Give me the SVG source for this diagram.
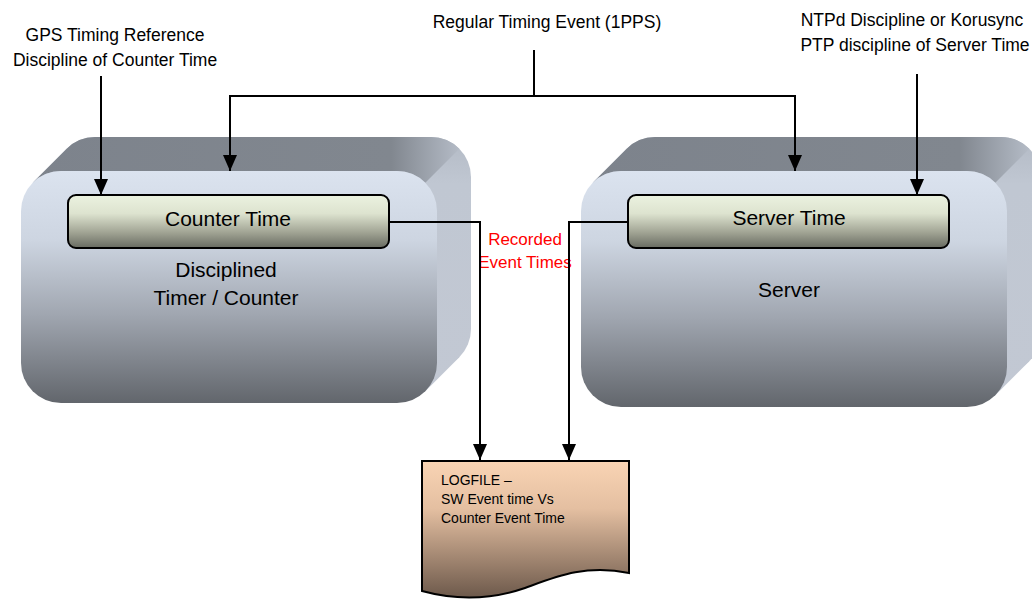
<svg xmlns="http://www.w3.org/2000/svg" width="1032" height="599" viewBox="0 0 1032 599">
<defs>
<linearGradient id="gFront" x1="0" y1="0" x2="0" y2="1">
<stop offset="0" stop-color="#dbe3ef"/>
<stop offset="0.3" stop-color="#cdd5e1"/>
<stop offset="0.62" stop-color="#a0a6b0"/>
<stop offset="1" stop-color="#62666c"/>
</linearGradient>
<linearGradient id="gSide" x1="0" y1="0" x2="0" y2="1">
<stop offset="0" stop-color="#b3bac5"/>
<stop offset="0.2" stop-color="#c0c7d2"/>
<stop offset="1" stop-color="#c2c8d3"/>
</linearGradient>
<linearGradient id="gTop" x1="0" y1="0" x2="1" y2="0">
<stop offset="0" stop-color="#7d838c"/>
<stop offset="0.84" stop-color="#81878f"/>
<stop offset="1" stop-color="#b4bbc6"/>
</linearGradient>
<linearGradient id="gBar" x1="0" y1="0" x2="0" y2="1">
<stop offset="0" stop-color="#ebf2e0"/>
<stop offset="0.35" stop-color="#dde3cf"/>
<stop offset="0.7" stop-color="#a2a595"/>
<stop offset="1" stop-color="#686b61"/>
</linearGradient>
<linearGradient id="gDoc" x1="0" y1="0" x2="0" y2="1">
<stop offset="0" stop-color="#f9d4b4"/>
<stop offset="0.35" stop-color="#e4bfa1"/>
<stop offset="1" stop-color="#6d594b"/>
</linearGradient>
<marker id="arr" markerUnits="userSpaceOnUse" markerWidth="16" markerHeight="16" viewBox="0 0 16 16" refX="16" refY="8" orient="auto">
<path d="M0,1 L16,8 L0,15 Z" fill="#000"/>
</marker>
<style>
text{font-family:"Liberation Sans",Arial,sans-serif;fill:#000}
.lbl{font-size:17.5px;text-anchor:middle}
.big{font-size:21px;text-anchor:middle}
.red{font-size:17px;text-anchor:middle;fill:#ff0000}
.doc{font-size:14px}
.side{fill:url(#gSide)}
.top{fill:url(#gTop)}
.front{fill:url(#gFront)}
.bar{fill:url(#gBar);stroke:#000;stroke-width:2}
.con{fill:none;stroke:#000;stroke-width:2}
</style>
</defs>

<g id="timer-counter">
<rect class="side" x="55" y="137" width="416" height="232" rx="40"/>
<polygon class="side" points="32.7,182.7 66.7,148.7 459.3,357.3 425.3,391.3"/>
<path class="top" d="M32.7,182.7 L66.7,148.7 A40,40 0 0 1 95,137 H431 A40,40 0 0 1 459.3,148.7 L425.3,182.7 A40,40 0 0 0 397,171 H61 A40,40 0 0 0 32.7,182.7 Z"/>
<rect class="front" x="21" y="171" width="416" height="232" rx="40"/>
<text class="big" x="226" y="277">Disciplined</text>
<text class="big" x="226" y="305">Timer / Counter</text>
</g>

<g id="counter-time">
<rect class="bar" x="68" y="195" width="321" height="53" rx="8"/>
<text class="big" x="228" y="226">Counter Time</text>
</g>

<g id="server">
<rect class="side" x="615" y="137" width="426" height="236" rx="40"/>
<polygon class="side" points="592.7,182.7 626.7,148.7 1029.3,361.3 995.3,395.3"/>
<path class="top" d="M592.7,182.7 L626.7,148.7 A40,40 0 0 1 655,137 H1001 A40,40 0 0 1 1029.3,148.7 L995.3,182.7 A40,40 0 0 0 967,171 H621 A40,40 0 0 0 592.7,182.7 Z"/>
<rect class="front" x="581" y="171" width="426" height="236" rx="40"/>
<text class="big" x="789" y="297">Server</text>
</g>

<g id="server-time">
<rect class="bar" x="628" y="195" width="321" height="53" rx="8"/>
<text class="big" x="789" y="225">Server Time</text>
</g>

<g id="logfile">
<path d="M422,461 H629 V573 C585,564 555,577 525,588 C490,600 455,600 422,591 Z" fill="url(#gDoc)" stroke="#000" stroke-width="2"/>
<text class="doc" x="441" y="485">LOGFILE –</text>
<text class="doc" x="441" y="504">SW Event time Vs</text>
<text class="doc" x="441" y="523">Counter Event Time</text>
</g>

<g id="labels">
<text class="lbl" x="115" y="41">GPS Timing Reference</text>
<text class="lbl" x="115" y="66">Discipline of Counter Time</text>
<text class="lbl" x="547" y="28">Regular Timing Event (1PPS)</text>
<text class="lbl" x="912" y="26">NTPd Discipline or Korusync</text>
<text class="lbl" x="915" y="51">PTP discipline of Server Time</text>
<text class="red" x="525" y="245">Recorded</text>
<text class="red" x="525" y="268">Event Times</text>
</g>

<g id="connectors">
<path class="con" d="M101,76 V195" marker-end="url(#arr)"/>
<path class="con" d="M534,50 V96"/>
<path class="con" d="M534,96 H230 V171" marker-end="url(#arr)"/>
<path class="con" d="M534,96 H795 V171" marker-end="url(#arr)"/>
<path class="con" d="M917,74 V195" marker-end="url(#arr)"/>
<path class="con" d="M389,222 H480 V460" marker-end="url(#arr)"/>
<path class="con" d="M628,222 H569 V460" marker-end="url(#arr)"/>
</g>
</svg>
